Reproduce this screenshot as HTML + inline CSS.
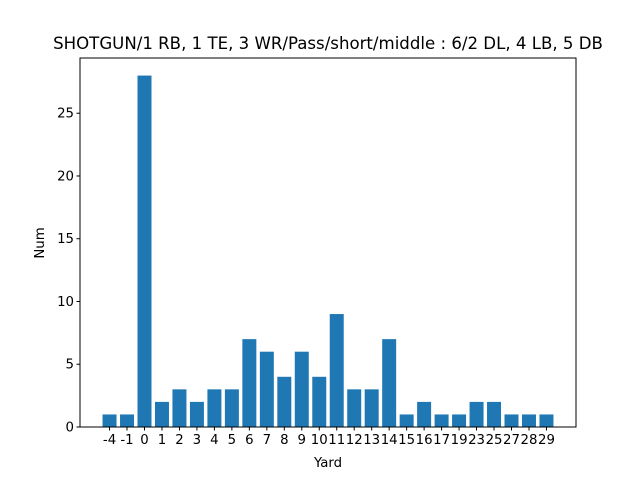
<!DOCTYPE html>
<html><head><meta charset="utf-8"><style>
body{margin:0;background:#fff;}
svg{display:block;font-family:"DejaVu Sans","Liberation Sans",sans-serif;}
</style></head><body>
<svg id="chart" width="640" height="480">
<rect width="640" height="480" fill="#fff"/>
<text x="328" y="49" text-anchor="middle" font-size="16.6">SHOTGUN/1 RB, 1 TE, 3 WR/Pass/short/middle : 6/2 DL, 4 LB, 5 DB</text>
<g id="bars"></g>
<g id="ticks"></g>
<rect x="80" y="58" width="496" height="369" fill="none" stroke="#000" stroke-width="1"/>
<text x="328" y="467" text-anchor="middle" font-size="13.3">Yard</text>
<text x="44" y="243" text-anchor="middle" font-size="13.3" transform="rotate(-90 44 243)">Num</text>
</svg>
<script>
const categories=["-4","-1","0","1","2","3","4","5","6","7","8","9","10","11","12","13","14","15","16","17","19","23","25","27","28","29"];
const values=[1,1,28,2,3,2,3,3,7,6,4,6,4,9,3,3,7,1,2,1,1,2,2,1,1,1];
const yTicks=[0,5,10,15,20,25];
const NS="http://www.w3.org/2000/svg";
const L=80,R=576,T=58,B=427;
const n=categories.length;
const xmin=-0.4-0.05*(n-1+0.8),xmax=n-1+0.4+0.05*(n-1+0.8);
const ymax=Math.max(...values)*1.05;
const xs=i=>L+(i-xmin)/(xmax-xmin)*(R-L);
const ys=v=>B-v/ymax*(B-T);
const bars=document.getElementById('bars'),ticks=document.getElementById('ticks');
function mk(tag,attrs,parent){const e=document.createElementNS(NS,tag);for(const k in attrs)e.setAttribute(k,attrs[k]);parent.appendChild(e);return e;}
values.forEach((v,i)=>{
 const w=0.8*(R-L)/(xmax-xmin);
 const r=mk('rect',{x:xs(i)-w/2,y:ys(v),width:w,height:B-ys(v),fill:'#1f77b4'},bars);
 
 
 const t=mk('line',{x1:xs(i),x2:xs(i),y1:B,y2:B+3.5,stroke:'#000'},ticks);
 
 
 const l=mk('text',{x:xs(i),y:B+17,'text-anchor':'middle','font-size':'13.3'},ticks);
 l.textContent=categories[i];
 
 
});
yTicks.forEach(v=>{
 const t=mk('line',{x1:L-3.5,x2:L,y1:ys(v),y2:ys(v),stroke:'#000'},ticks);
 
 
 const l=mk('text',{x:L-6,y:ys(v)+4.5,'text-anchor':'end','font-size':'13.3'},ticks);
 l.textContent=v;
 
 
});
</script>
</body></html>
